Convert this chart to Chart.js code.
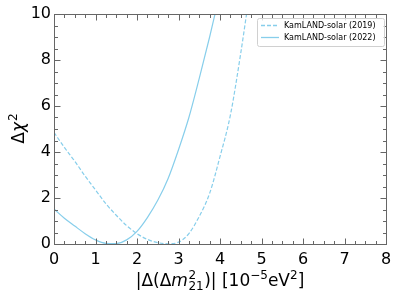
<!DOCTYPE html>
<html><head><meta charset="utf-8">
<script src="https://cdn.jsdelivr.net/npm/chart.js@4"></script>
<style>html,body{margin:0;padding:0;background:#fff}#wrap{width:399px;height:299px}</style>
</head><body><div id="wrap"><canvas id="c" width="399" height="299"></canvas></div>
<script>
const seriesLabels = ["KamLAND-solar (2019)", "KamLAND-solar (2022)"];
const x2019 = [0, 0.25, 0.5, 0.75, 1.0, 1.25, 1.5, 1.75, 2.0, 2.25, 2.5, 2.75, 3.0, 3.25, 3.5, 3.75, 4.0, 4.25, 4.5, 4.64];
const chi2019 = [4.85, 4.2, 3.6, 2.95, 2.35, 1.75, 1.25, 0.8, 0.45, 0.2, 0.06, 0.01, 0.08, 0.45, 1.2, 2.2, 3.8, 5.6, 8.3, 10.0];
const x2022 = [0, 0.25, 0.5, 0.75, 1.0, 1.25, 1.5, 1.75, 2.0, 2.25, 2.5, 2.75, 3.0, 3.25, 3.5, 3.75, 3.88];
const chi2022 = [1.52, 1.12, 0.78, 0.45, 0.18, 0.03, 0.02, 0.18, 0.55, 1.15, 1.9, 2.85, 4.1, 5.5, 7.2, 9.0, 10.0];
const xTicks = [0, 1, 2, 3, 4, 5, 6, 7, 8];
const yTicks = [0, 2, 4, 6, 8, 10];
const lineColor = "#87CEEB";
const FONT = "'DejaVu Sans', sans-serif";

const frameTicks = {
  id: 'frameTicks',
  afterDraw(chart) {
    const ctx = chart.ctx, a = chart.chartArea, xs = chart.scales.x, ys = chart.scales.y;
    ctx.save();
    ctx.strokeStyle = '#666'; ctx.lineWidth = 1;
    const L = Math.round(a.left) + 0.5, R = Math.round(a.right) + 0.5, T = Math.round(a.top) + 0.5, B = Math.round(a.bottom) + 0.5;
    ctx.beginPath();
    for (let v = 0; v <= 8.0001; v += 0.25) {
      const major = Math.abs(v - Math.round(v)) < 1e-6;
      const len = major ? 6 : 3.5;
      const p = Math.round(xs.getPixelForValue(v)) + 0.5;
      ctx.moveTo(p, B); ctx.lineTo(p, B - len);
      ctx.moveTo(p, T); ctx.lineTo(p, T + len);
    }
    for (let v = 0; v <= 10.0001; v += 0.5) {
      const major = Math.abs(v / 2 - Math.round(v / 2)) < 1e-6;
      const len = major ? 6 : 3.5;
      const p = Math.round(ys.getPixelForValue(v)) + 0.5;
      ctx.moveTo(L, p); ctx.lineTo(L + len, p);
      ctx.moveTo(R, p); ctx.lineTo(R - len, p);
    }
    ctx.stroke();
    ctx.strokeRect(L, T, R - L, B - T);

    // legend
    const bx = 257.5, by = 18.5, bw = 127, bh = 28;
    ctx.fillStyle = 'rgba(255,255,255,0.8)';
    ctx.strokeStyle = '#d0d0d0';
    ctx.beginPath();
    ctx.roundRect(bx, by, bw, bh, 2);
    ctx.fill(); ctx.stroke();
    ctx.font = "8px " + FONT;
    ctx.textBaseline = 'middle';
    ctx.fillStyle = '#000';
    chart.data.datasets.forEach((ds, i) => {
      const yy = 25.5 + i * 12;
      ctx.strokeStyle = ds.borderColor; ctx.lineWidth = 1.3;
      ctx.setLineDash(ds.borderDash || []);
      ctx.beginPath(); ctx.moveTo(261, yy); ctx.lineTo(279, yy); ctx.stroke();
      ctx.setLineDash([]);
      ctx.fillText(ds.label, 284, yy + 0.5);
    });

    // x title: |Δ(Δm²₂₁)| [10⁻⁵eV²]
    const fs = 17, fss = 12;
    const parts = [
      {t: '|Δ(Δ', f: fs + 'px ' + FONT, dy: 0},
      {t: 'm', f: 'italic ' + fs + 'px ' + FONT, dy: 0},
      {stack: true},
      {t: ')| [10', f: fs + 'px ' + FONT, dy: 0},
      {t: '−5', f: fss + 'px ' + FONT, dy: -7},
      {t: 'eV', f: fs + 'px ' + FONT, dy: 0},
      {t: '2', f: fss + 'px ' + FONT, dy: -7},
      {t: ']', f: fs + 'px ' + FONT, dy: 0}
    ];
    let total = 0;
    parts.forEach(p => {
      if (p.stack) { ctx.font = fss + 'px ' + FONT; p.w = Math.max(ctx.measureText('2').width, ctx.measureText('21').width) + 1; }
      else { ctx.font = p.f; p.w = ctx.measureText(p.t).width; }
      total += p.w;
    });
    let cx = (a.left + a.right) / 2 - total / 2;
    const base = 286;
    ctx.textBaseline = 'alphabetic'; ctx.textAlign = 'left'; ctx.fillStyle = '#000';
    parts.forEach(p => {
      if (p.stack) {
        ctx.font = fss + 'px ' + FONT;
        ctx.fillText('2', cx + 0.5, base - 7);
        ctx.fillText('21', cx + 0.5, base + 4);
      } else {
        ctx.font = p.f; ctx.fillText(p.t, cx, base + p.dy);
      }
      cx += p.w;
    });

    // y title: Δχ²
    ctx.save();
    ctx.translate(24, (a.top + a.bottom) / 2);
    ctx.rotate(-Math.PI / 2);
    ctx.font = fs + 'px ' + FONT;
    const w1 = ctx.measureText('Δ').width;
    ctx.font = 'italic ' + fs + 'px ' + FONT;
    const w2 = ctx.measureText('χ').width;
    ctx.font = fss + 'px ' + FONT;
    const w3 = ctx.measureText('2').width;
    let sx = -(w1 + w2 + w3) / 2;
    ctx.font = fs + 'px ' + FONT; ctx.fillText('Δ', sx, 0); sx += w1;
    ctx.font = 'italic ' + fs + 'px ' + FONT; ctx.fillText('χ', sx, 0); sx += w2;
    ctx.font = fss + 'px ' + FONT; ctx.fillText('2', sx + 1, -7);
    ctx.restore();
    ctx.restore();
  }
};

new Chart(document.getElementById('c'), {
  type: 'line',
  data: {
    datasets: [
      {label: seriesLabels[0], data: x2019.map((x, i) => ({x, y: chi2019[i]})), borderColor: lineColor, borderWidth: 1.2, borderDash: [4, 2], pointRadius: 0, cubicInterpolationMode: 'monotone', fill: false},
      {label: seriesLabels[1], data: x2022.map((x, i) => ({x, y: chi2022[i]})), borderColor: lineColor, borderWidth: 1.2, pointRadius: 0, cubicInterpolationMode: 'monotone', fill: false}
    ]
  },
  options: {
    responsive: false, animation: false, devicePixelRatio: 1,
    layout: {padding: {top: 14, right: 13, left: 0, bottom: 0}},
    plugins: {legend: {display: false}, tooltip: {enabled: false}},
    scales: {
      x: {type: 'linear', min: 0, max: 8,
        afterFit(s) { s.height = 55; },
        afterBuildTicks(s) { s.ticks = xTicks.map(v => ({value: v})); },
        grid: {display: false, drawTicks: false}, border: {display: false},
        ticks: {font: {family: FONT, size: 16}, color: '#000', padding: 6, maxRotation: 0}},
      y: {type: 'linear', min: 0, max: 10,
        afterFit(s) { s.width = 54; },
        afterBuildTicks(s) { s.ticks = yTicks.map(v => ({value: v})); },
        grid: {display: false, drawTicks: false}, border: {display: false},
        ticks: {font: {family: FONT, size: 16}, color: '#000', padding: 3}}
    }
  },
  plugins: [frameTicks]
});
</script></body></html>
